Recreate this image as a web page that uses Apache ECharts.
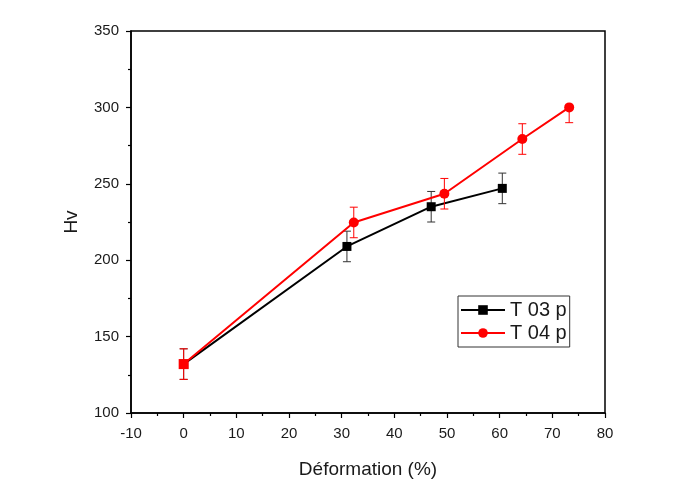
<!DOCTYPE html>
<html>
<head>
<meta charset="utf-8">
<script src="https://cdn.jsdelivr.net/npm/echarts@6/dist/echarts.min.js"></script>
<style>
	html, body { margin: 0; padding: 0; background: #fff; }
	#chart { width: 689px; height: 488px; }
</style>
</head>
<body>
<div id="chart"></div>
<script>
	// 数据
	var seriesNames = ['T 03 p', 'T 04 p'];
	var strainT03 = [0, 31, 47, 60.5];
	var hvT03 = [132, 209, 235, 247];
	var errT03 = [10, 10, 10, 10];
	var strainT04 = [0, 32.3, 49.5, 64.3, 73.2];
	var hvT04 = [132, 224.7, 243.5, 279.3, 300];
	var errT04Plus = [10, 10, 10, 10, 0];
	var errT04Minus = [10, 10, 10, 10, 10];

	var chart = echarts.init(document.getElementById('chart'));

	function pairs(xs, ys) {
		return xs.map(function(x, i) { return [x, ys[i]]; });
	}
	function errData(xs, ys, plus, minus) {
		return xs.map(function(x, i) { return [x, ys[i] - minus[i], ys[i] + plus[i]]; });
	}
	// 误差棒
	function errorBar(color) {
		return function(params, api) {
			var lo = api.coord([api.value(0), api.value(1)]);
			var hi = api.coord([api.value(0), api.value(2)]);
			var w = 4;
			var st = { stroke: color, lineWidth: 1 };
			return {
				type: 'group',
				children: [
					{ type: 'line', shape: { x1: lo[0], y1: lo[1], x2: hi[0], y2: hi[1] }, style: st },
					{ type: 'line', shape: { x1: lo[0] - w, y1: lo[1], x2: lo[0] + w, y2: lo[1] }, style: st },
					{ type: 'line', shape: { x1: hi[0] - w, y1: hi[1], x2: hi[0] + w, y2: hi[1] }, style: st }
				]
			};
		};
	}

	var t04Data = pairs(strainT04, hvT04);
	t04Data[0] = { value: t04Data[0], symbol: 'rect', symbolSize: 10 };

	var font = 'Liberation Sans, Arial';
	var axisFont = { color: '#1a1a1a', fontSize: 15, fontFamily: font };
	var titleFont = { color: '#1a1a1a', fontSize: 19, fontFamily: font };

	var option = {
		animation: false,
		backgroundColor: '#fff',
		grid: {
			left: 131, right: 84, top: 31, bottom: 75,
			show: true, borderColor: '#000', borderWidth: 1.5, backgroundColor: 'transparent'
		},
		legend: {
			data: seriesNames,
			orient: 'vertical',
			left: 458, top: 296,
			itemWidth: 44, itemHeight: 12, itemGap: 3,
			padding: [4, 3, 4, 2],
			borderColor: '#333', borderWidth: 1,
			textStyle: { color: '#1a1a1a', fontSize: 20, fontFamily: font }
		},
		xAxis: {
			type: 'value', min: -10, max: 80, interval: 10,
			name: 'Déformation (%)', nameLocation: 'middle', nameGap: 47,
			nameTextStyle: titleFont,
			axisLine: { onZero: false, lineStyle: { color: '#000', width: 1.5 } },
			axisTick: { inside: false, length: 5, lineStyle: { color: '#000', width: 1.2 } },
			minorTick: { show: true, splitNumber: 2, length: 3, lineStyle: { color: '#000', width: 1.2 } },
			axisLabel: Object.assign({ margin: 13 }, axisFont),
			splitLine: { show: false }
		},
		yAxis: {
			type: 'value', min: 100, max: 350, interval: 50,
			name: 'Hv', nameLocation: 'middle', nameGap: 50,
			nameTextStyle: titleFont,
			axisLine: { onZero: false, lineStyle: { color: '#000', width: 1.5 } },
			axisTick: { inside: false, length: 5, lineStyle: { color: '#000', width: 1.2 } },
			minorTick: { show: true, splitNumber: 2, length: 3, lineStyle: { color: '#000', width: 1.2 } },
			axisLabel: Object.assign({ margin: 12 }, axisFont),
			splitLine: { show: false }
		},
		series: [
			{
				name: seriesNames[0], type: 'line',
				data: pairs(strainT03, hvT03),
				symbol: 'rect', symbolSize: 9,
				itemStyle: { color: '#000' },
				lineStyle: { color: '#000', width: 2 },
				z: 2
			},
			{
				type: 'custom',
				renderItem: errorBar('#333'),
				data: errData(strainT03, hvT03, errT03, errT03),
				encode: { x: 0, y: [1, 2] },
				z: 1, silent: true
			},
			{
				name: seriesNames[1], type: 'line',
				data: t04Data,
				symbol: 'circle', symbolSize: 10,
				itemStyle: { color: '#ff0000' },
				lineStyle: { color: '#ff0000', width: 2 },
				z: 4
			},
			{
				type: 'custom',
				renderItem: errorBar('#ff0000'),
				data: errData(strainT04, hvT04, errT04Plus, errT04Minus),
				encode: { x: 0, y: [1, 2] },
				z: 3, silent: true
			}
		]
	};

	chart.setOption(option);
</script>
</body>
</html>
